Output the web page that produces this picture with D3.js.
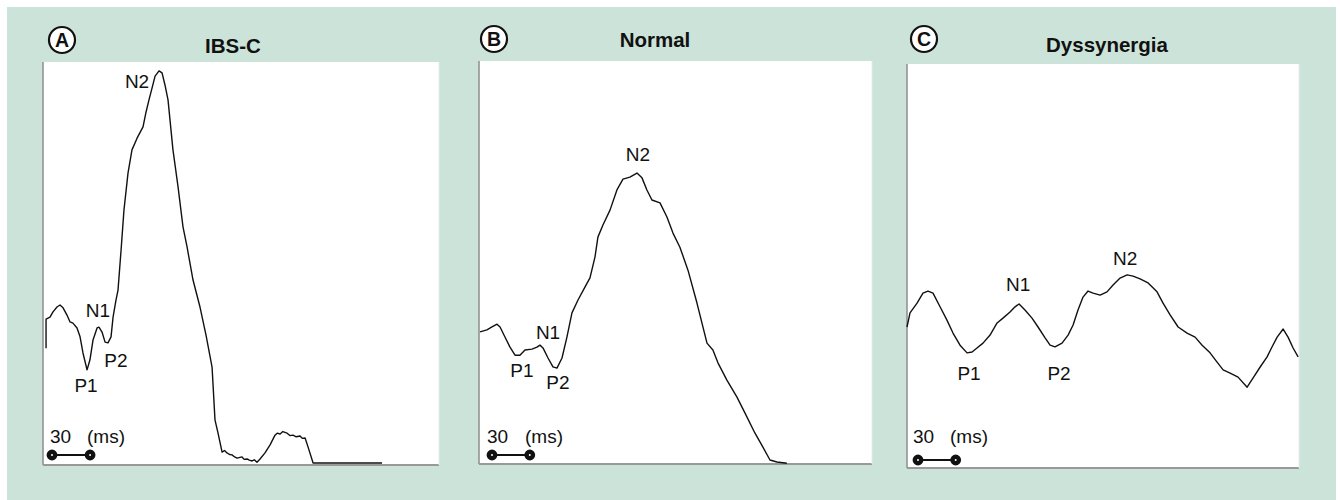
<!DOCTYPE html>
<html>
<head>
<meta charset="utf-8">
<script src="https://cdn.jsdelivr.net/npm/d3@7"></script>
<style>
  html, body { margin: 0; padding: 0; background: #ffffff; }
  svg { display: block; font-family: "Liberation Sans", Arial, Helvetica, sans-serif; }
</style>
</head>
<body>
<svg id="chart" width="1340" height="500"></svg>
<script>
// ---------------- DATA (time in ms, amplitude in arbitrary units 0-100) ----------------
const panelLetters = ["A", "B", "C"];
const panelTitles = ["IBS-C", "Normal", "Dyssynergia"];

const ibsTime = [2.4, 2.4, 5.5, 7.9, 11.0, 13.4, 15.8, 18.9, 21.3, 23.6, 26.8, 29.2, 31.5, 34.7, 37.0, 39.4, 42.6, 44.1, 46.5, 48.9, 51.2, 53.6, 55.2, 57.5, 59.1, 61.5, 63.8, 67.0, 70.1, 74.1, 78.8, 81.2, 83.5, 85.9, 88.3, 91.4, 93.8, 96.1, 98.5, 102.4, 106.4, 110.3, 113.5, 118.2, 123.7, 128.4, 133.2, 135.5, 137.9, 141.1, 143.0, 145.0, 147.0, 148.9, 151.0, 152.9, 156.8, 158.5, 160.8, 162.5, 164.7, 166.5, 168.6, 171.0, 174.9, 178.9, 182.8, 184.5, 186.8, 189.0, 192.3, 194.5, 197.0, 199.5, 202.5, 204.5, 206.5, 208.8, 212.8, 267.1];
const ibsAmp  = [29.0, 36.2, 36.7, 38.0, 39.2, 39.7, 39.0, 37.2, 35.5, 35.2, 34.0, 31.8, 27.8, 23.6, 26.1, 31.0, 34.0, 34.2, 33.0, 30.5, 30.3, 31.8, 36.7, 40.9, 43.4, 53.3, 63.3, 72.5, 78.2, 81.1, 83.9, 87.6, 90.6, 93.5, 96.5, 97.8, 97.3, 94.3, 90.6, 78.2, 69.0, 59.1, 54.1, 45.9, 39.2, 32.3, 24.3, 11.2, 7.9, 3.2, 3.6, 3.0, 2.6, 2.5, 2.0, 1.7, 2.0, 1.4, 1.5, 1.2, 1.0, 1.3, 0.7, 1.5, 3.0, 5.0, 7.4, 7.9, 7.7, 8.3, 7.9, 7.3, 7.4, 7.0, 7.2, 6.6, 6.7, 4.5, 0.5, 0.5];

const normalTime = [0.8, 6.3, 10.3, 14.3, 16.7, 20.6, 24.6, 28.6, 32.5, 36.5, 42.1, 46.0, 48.4, 50.8, 54.8, 58.7, 61.9, 65.9, 69.8, 73.8, 78.6, 84.1, 88.1, 92.1, 94.4, 98.4, 104.0, 109.5, 114.3, 119.8, 125.4, 129.4, 133.3, 137.3, 143.7, 149.2, 154.0, 159.5, 165.9, 173.0, 181.0, 185.7, 189.7, 196.8, 204.8, 211.1, 219.0, 225.4, 231.0, 236.5, 244.4];
const normalAmp  = [32.8, 33.3, 34.0, 34.7, 34.0, 31.5, 29.0, 27.0, 27.0, 28.3, 28.5, 29.0, 29.5, 28.8, 26.3, 24.1, 23.8, 26.3, 31.5, 37.5, 40.7, 43.9, 46.2, 51.4, 56.3, 59.3, 63.0, 68.0, 70.7, 71.2, 72.2, 71.0, 68.0, 65.5, 64.8, 61.3, 57.3, 53.8, 48.1, 40.0, 30.0, 28.3, 25.1, 20.8, 16.6, 12.7, 7.7, 4.2, 1.0, 0.5, 0.2];

const dysTime = [0, 2.4, 8.0, 12.7, 16.7, 20.7, 26.3, 31.8, 36.6, 42.2, 47.8, 51.8, 55.7, 60.5, 66.1, 71.7, 76.4, 82.0, 86.0, 89.2, 93.9, 99.5, 104.3, 109.9, 113.9, 117.8, 123.4, 128.2, 132.2, 136.1, 140.1, 144.1, 148.1, 153.7, 159.2, 164.0, 169.6, 175.2, 179.9, 185.5, 191.9, 199.0, 203.8, 209.4, 215.8, 222.9, 229.3, 234.9, 241.2, 246.8, 251.6, 257.2, 263.5, 270.7, 275.5, 281.1, 286.6, 290.6, 294.6, 299.4, 303.3, 307.3, 311.3];
const dysAmp  = [34.9, 38.4, 40.8, 43.3, 43.8, 43.3, 39.9, 36.6, 33.4, 30.4, 28.5, 28.7, 29.7, 30.9, 32.9, 35.9, 37.1, 38.6, 39.9, 40.6, 39.1, 37.1, 34.9, 32.2, 30.4, 30.0, 30.9, 32.9, 35.4, 39.1, 42.3, 43.8, 43.3, 42.8, 43.6, 45.3, 47.0, 47.8, 47.5, 46.8, 45.8, 43.6, 40.8, 37.9, 34.9, 33.4, 32.4, 30.4, 28.5, 26.2, 24.3, 23.5, 22.5, 20.0, 22.3, 25.0, 27.5, 30.0, 32.4, 34.4, 32.4, 29.7, 27.5];

// peak annotations: label text and anchor (time ms, amplitude) of the text baseline-centre
const peakNames = ["N2", "N1", "P1", "P2"];
const ibsPeakTime = [74.1, 43.3, 33.9, 57.5];
const ibsPeakAmp  = [93.5, 36.7, 18.1, 24.3];
const normalPeakTime = [126.2, 54.8, 34.1, 62.7];
const normalPeakAmp  = [75.2, 31.0, 21.6, 18.6];
const dysPeakTime = [173.6, 88.4, 49.4, 121.0];
const dysPeakAmp  = [50.2, 43.8, 21.8, 21.8];

// scale bar
const scaleBarMs = 30;
const scaleBarUnit = "(ms)";
const timeDomain = [0, 312];
const ampDomain = [0, 100];

// ---------------- LAYOUT ----------------
const svg = d3.select("#chart");
svg.append("rect").attr("x", 7).attr("y", 7).attr("width", 1329).attr("height", 493).attr("fill", "#cce3d9");

const boxes = [
  { x0: 43, x1: 439, y0: 62, y1: 465, circ: [62, 40], title: [233, 53], bar: [9, 10], barText: [7, 44, 22] },
  { x0: 479, x1: 872, y0: 61, y1: 464, circ: [494, 39], title: [655, 47], bar: [13, 9], barText: [8, 46, 21] },
  { x0: 907, x1: 1299, y0: 64, y1: 468, circ: [924, 39], title: [1107, 52], bar: [11, 8], barText: [6, 43, 25] }
];

const panels = [
  { t: ibsTime, a: ibsAmp, pt: ibsPeakTime, pa: ibsPeakAmp },
  { t: normalTime, a: normalAmp, pt: normalPeakTime, pa: normalPeakAmp },
  { t: dysTime, a: dysAmp, pt: dysPeakTime, pa: dysPeakAmp }
];

panels.forEach((p, i) => {
  const b = boxes[i];
  const x = d3.scaleLinear().domain(timeDomain).range([b.x0, b.x1]);
  const y = d3.scaleLinear().domain(ampDomain).range([b.y1, b.y0]);
  const g = svg.append("g");

  // white plot box
  g.append("rect").attr("x", b.x0).attr("y", b.y0).attr("width", b.x1 - b.x0).attr("height", b.y1 - b.y0).attr("fill", "#ffffff");
  g.append("line").attr("x1", b.x0).attr("x2", b.x0).attr("y1", b.y0).attr("y2", b.y1).attr("stroke", "#8c8c8c").attr("stroke-width", 1.5);
  g.append("line").attr("x1", b.x0).attr("x2", b.x1).attr("y1", b.y1).attr("y2", b.y1).attr("stroke", "#999").attr("stroke-width", 2);
  g.append("line").attr("x1", b.x1).attr("x2", b.x1).attr("y1", b.y0).attr("y2", b.y1).attr("stroke", "#e4ece8").attr("stroke-width", 1);

  // trace
  const line = d3.line().x((d, k) => x(p.t[k])).y((d, k) => y(p.a[k])).curve(d3.curveLinear);
  g.append("path").datum(p.t).attr("d", line).attr("fill", "none").attr("stroke", "#111").attr("stroke-width", 1.4).attr("stroke-linejoin", "round");

  // peak labels
  peakNames.forEach((n, k) => {
    g.append("text").attr("x", x(p.pt[k])).attr("y", y(p.pa[k])).attr("text-anchor", "middle")
      .attr("font-size", 19).attr("fill", "#111").text(n);
  });

  // title
  svg.append("text").attr("x", b.title[0]).attr("y", b.title[1]).attr("text-anchor", "middle")
    .attr("font-size", 20.5).attr("font-weight", "bold").attr("fill", "#111").text(panelTitles[i]);

  // circled letter
  svg.append("circle").attr("cx", b.circ[0]).attr("cy", b.circ[1]).attr("r", 13).attr("fill", "#fff").attr("stroke", "#111").attr("stroke-width", 2.2);
  svg.append("text").attr("x", b.circ[0]).attr("y", b.circ[1] + 7).attr("text-anchor", "middle")
    .attr("font-size", 19.5).attr("font-weight", "bold").attr("fill", "#111").text(panelLetters[i]);

  // scale bar: 30 ms
  const bx0 = b.x0 + b.bar[0];
  const bx1 = bx0 + (x(scaleBarMs) - x(0));
  const by = b.y1 - b.bar[1];
  g.append("line").attr("x1", bx0).attr("x2", bx1).attr("y1", by).attr("y2", by).attr("stroke", "#111").attr("stroke-width", 2);
  [bx0, bx1].forEach(cx => {
    g.append("circle").attr("cx", cx).attr("cy", by).attr("r", 3.2).attr("fill", "#fff").attr("stroke", "#111").attr("stroke-width", 4.4);
  });
  g.append("text").attr("x", b.x0 + b.barText[0]).attr("y", b.y1 - b.barText[2]).attr("font-size", 19).attr("fill", "#111").text(String(scaleBarMs));
  g.append("text").attr("x", b.x0 + b.barText[1]).attr("y", b.y1 - b.barText[2]).attr("font-size", 19).attr("fill", "#111").text(scaleBarUnit);
});
</script>
</body>
</html>
